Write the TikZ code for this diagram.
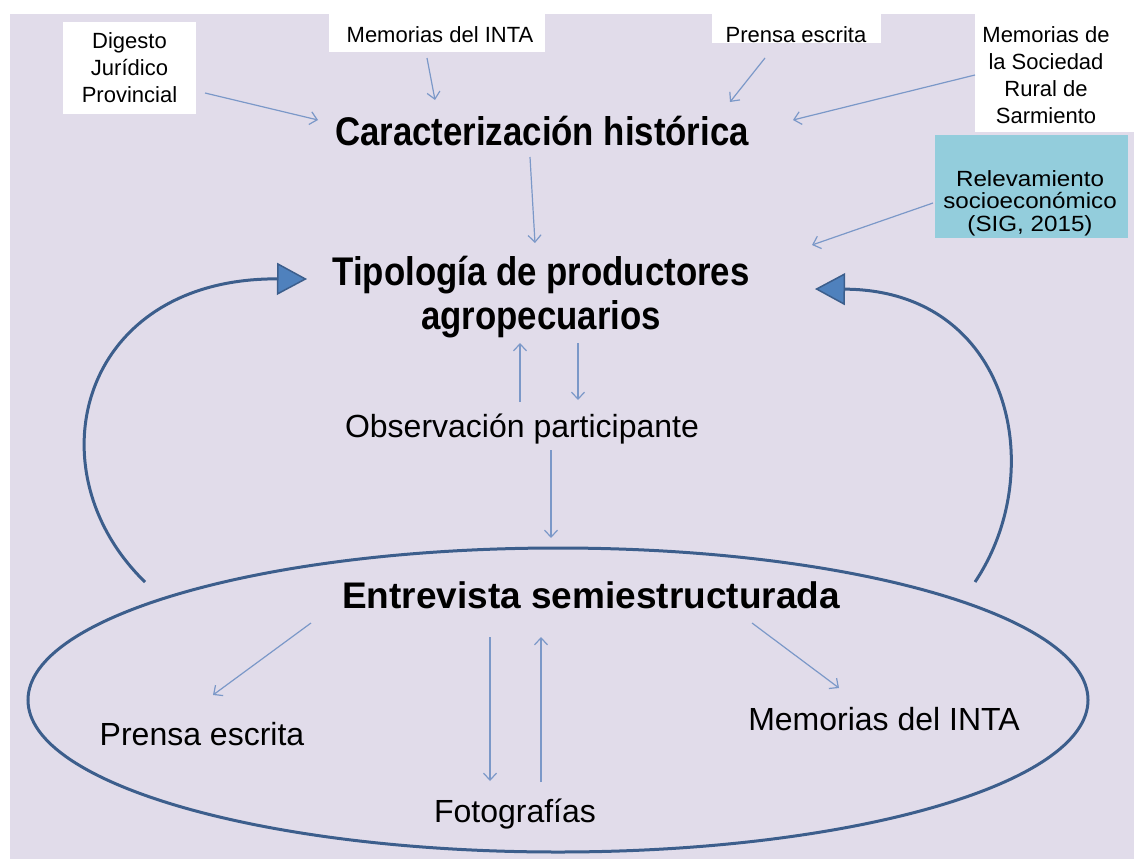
\documentclass[tikz,border=0pt]{standalone}
\usepackage{fontspec}
\setmainfont{Liberation Sans}
\usetikzlibrary{arrows.meta,shapes.geometric}
\definecolor{bglav}{HTML}{E1DCEA}
\definecolor{relbox}{HTML}{93CDDC}
\definecolor{thinblue}{HTML}{7B98C8}
\definecolor{darkblue}{HTML}{3C5E8C}
\definecolor{tipfill}{HTML}{4F81BD}
\newcommand{\fsz}[2]{\fontsize{#1}{#2}\selectfont}
\begin{document}
\begin{tikzpicture}[x=1pt,y=-1pt,
  thinarrow/.style={draw=thinblue, line width=1.2pt, -{Straight Barb[length=7pt,width=13pt]}},
  bigarrow/.style={draw=darkblue, line width=3pt, -{Triangle[length=30pt,width=32pt,fill=tipfill,line width=1.5pt]}},
  smalltxt/.style={font=\fsz{22}{27}, align=center, inner sep=0pt},
  reltxt/.style={font=\fsz{22}{22.5}, align=center, inner sep=0pt},
  bigtitle/.style={font=\fsz{40}{44}\bfseries, align=center, inner sep=0pt},
  midtxt/.style={font=\fsz{32}{38}, inner sep=0pt},
  whitebox/.style={fill=white},
  ]
\useasboundingbox (0,0) rectangle (1134,859);
\fill[white] (0,0) rectangle (1134,859);
\fill[bglav] (10,14) rectangle (1134,859);

% source boxes
\fill[whitebox] (63,22) rectangle (196,114);
\fill[whitebox] (329,0) rectangle (545,52);
\fill[whitebox] (712,0) rectangle (881,43);
\fill[whitebox] (975,0) rectangle (1134,132);
\fill[relbox] (935,135) rectangle (1128,238);

\node[smalltxt] (dig) at (129.5,68) {Digesto\\Jurídico\\Provincial};
\node[smalltxt, anchor=base] (minta) at (440,42) {Memorias del INTA};
\node[smalltxt, anchor=base] (pren) at (796,42) {Prensa escrita};
\node[smalltxt] (msr) at (1046,75) {Memorias de\\la Sociedad\\Rural de\\Sarmiento};
\node[reltxt] (rel) at (1030,203) {\scalebox{1.1}[1]{Relevamiento}\\\scalebox{1.1}[1]{socioeconómico}\\\scalebox{1.1}[1]{(SIG, 2015)}};

% main nodes
\node[bigtitle, anchor=base] (car) at (542,145) {\scalebox{0.87}[1]{Caracterización histórica}};
\node[bigtitle] (tip) at (541,297) {\scalebox{0.87}[1]{Tipología de productores}\\\scalebox{0.87}[1]{agropecuarios}};
\node[midtxt, anchor=base] (obs) at (522,437) {Observación participante};
\node[ellipse, draw=darkblue, line width=3pt, minimum width=1060pt, minimum height=304pt, inner sep=0pt] (ell) at (558,700) {};
\node[font=\fsz{37}{44}\bfseries, inner sep=0pt, anchor=base] (ent) at (591,608) {Entrevista semiestructurada};
\node[midtxt, anchor=base] (pbot) at (202,745) {Prensa escrita};
\node[midtxt, anchor=base] (mbot) at (884,730) {Memorias del INTA};
\node[midtxt, anchor=base] (foto) at (515,822) {Fotografías};

% connector end points
\coordinate (dig-o) at (205,93);   \coordinate (car-w) at (318,120);
\coordinate (minta-o) at (427,58); \coordinate (car-nw) at (435,100);
\coordinate (pren-o) at (765,58);  \coordinate (car-ne) at (730,102);
\coordinate (msr-o) at (975,75);   \coordinate (car-e) at (793,120);
\coordinate (rel-o) at (933,203);  \coordinate (tip-ne) at (812,245);
\coordinate (car-s) at (530,157);  \coordinate (tip-n) at (535,243);
\coordinate (obs-nl) at (520,402); \coordinate (tip-sl) at (520,343);
\coordinate (tip-sr) at (578,343); \coordinate (obs-nr) at (578,400);
\coordinate (obs-s) at (551,450);  \coordinate (ent-n) at (551,538);
\coordinate (ent-sw) at (311,623); \coordinate (pbot-n) at (213,695);
\coordinate (ent-se) at (752,623); \coordinate (mbot-n) at (839,688);
\coordinate (ent-sl) at (490,637); \coordinate (foto-nl) at (490,781);
\coordinate (foto-nr) at (541,782); \coordinate (ent-sr) at (541,637);
\coordinate (lcurve-s) at (145,582); \coordinate (tip-w) at (307,279);
\coordinate (rcurve-s) at (975,582); \coordinate (tip-e) at (815,289);

\draw[thinarrow] (dig-o) -- (car-w);
\draw[thinarrow] (minta-o) -- (car-nw);
\draw[thinarrow] (pren-o) -- (car-ne);
\draw[thinarrow] (msr-o) -- (car-e);
\draw[thinarrow] (rel-o) -- (tip-ne);
\draw[thinarrow] (car-s) -- (tip-n);
\draw[thinarrow] (obs-nl) -- (tip-sl);
\draw[thinarrow] (tip-sr) -- (obs-nr);
\draw[thinarrow] (obs-s) -- (ent-n);
\draw[thinarrow] (ent-sw) -- (pbot-n);
\draw[thinarrow] (ent-se) -- (mbot-n);
\draw[thinarrow] (ent-sl) -- (foto-nl);
\draw[thinarrow] (foto-nr) -- (ent-sr);

\draw[bigarrow] (lcurve-s) .. controls (30,470) and (80,278) .. (tip-w);
\draw[bigarrow] (rcurve-s) .. controls (1050,470) and (1010,290) .. (tip-e);
\end{tikzpicture}
\end{document}
